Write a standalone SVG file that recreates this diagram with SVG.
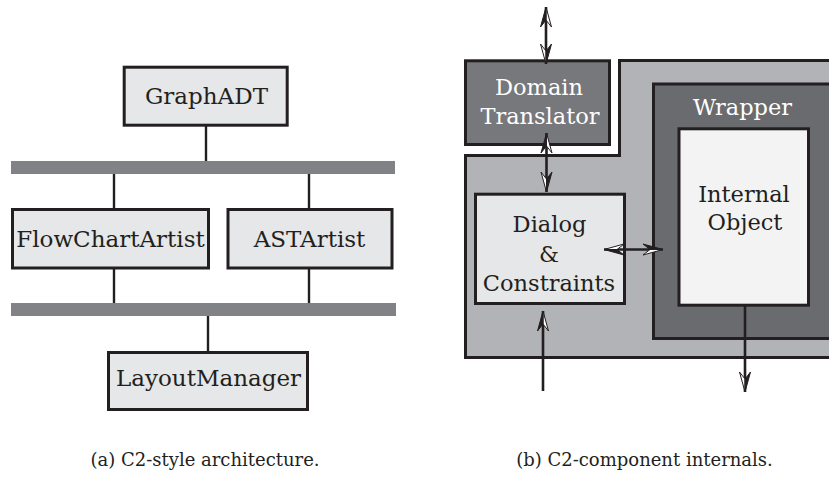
<svg xmlns="http://www.w3.org/2000/svg" width="829" height="481" viewBox="0 0 829 481">
<defs>
<style>
.box{fill:#e6e7e8;stroke:#231f20;stroke-width:3}
.bus{fill:#808285}
.wire{stroke:#231f20;stroke-width:2.4;fill:none}
.arr{stroke:#231f20;stroke-width:2.6;fill:none}
.lbl{font-family:"DejaVu Serif","Liberation Serif",serif;font-size:23px;fill:#231f20;text-anchor:middle}
.rl{font-size:22.5px}
.wt{fill:#ffffff}
.cap{font-family:"DejaVu Serif","Liberation Serif",serif;font-size:18px;fill:#231f20;text-anchor:middle}
</style>
<marker id="ah" viewBox="-22 -8 24 16" refX="0" refY="0" markerWidth="24" markerHeight="16" markerUnits="userSpaceOnUse" orient="auto-start-reverse">
<path d="M0,0 L-20,5.5 L-13,0 Z" fill="#ffffff" stroke="#231f20" stroke-width="1"/>
<path d="M0,0 L-20,-5.5 L-13,0 Z" fill="#231f20" stroke="#231f20" stroke-width="1"/>
</marker>
</defs>
<rect width="829" height="481" fill="#ffffff"/>

<!-- (a) C2-style architecture -->
<g id="bus1"><rect class="bus" x="11" y="161" width="384" height="13"/></g>
<g id="bus2"><rect class="bus" x="11" y="303" width="385" height="13"/></g>
<g id="connectors-a">
<line class="wire" x1="206" y1="126" x2="206" y2="161"/>
<line class="wire" x1="114" y1="174" x2="114" y2="209"/>
<line class="wire" x1="309" y1="174" x2="309" y2="209"/>
<line class="wire" x1="114" y1="268" x2="114" y2="303"/>
<line class="wire" x1="309" y1="268" x2="309" y2="303"/>
<line class="wire" x1="208" y1="316" x2="208" y2="352"/>
</g>
<g id="graphadt">
<rect class="box" x="124.2" y="67.2" width="163" height="58"/>
<text class="lbl" x="206.5" y="103.5">GraphADT</text>
</g>
<g id="flowchartartist">
<rect class="box" x="12.5" y="209.5" width="196" height="58.5"/>
<text class="lbl" x="110.5" y="247">FlowChartArtist</text>
</g>
<g id="astartist">
<rect class="box" x="228" y="209.5" width="164" height="58.5"/>
<text class="lbl" x="309.5" y="247">ASTArtist</text>
</g>
<g id="layoutmanager">
<rect class="box" x="108.5" y="352.5" width="199" height="57"/>
<text class="lbl" x="208.5" y="386">LayoutManager</text>
</g>

<!-- (b) C2-component internals -->
<g id="component">
<path d="M465.5,155.5 H619.5 V60.5 H840 V357.5 H465.5 Z" fill="#b1b3b6" stroke="#231f20" stroke-width="3"/>
</g>
<g id="domain-translator">
<rect x="465.5" y="60.8" width="144" height="83.7" fill="#77787b" stroke="#231f20" stroke-width="3"/>
<text class="lbl rl wt" x="539" y="95">Domain</text>
<text class="lbl rl wt" x="540" y="124">Translator</text>
</g>
<g id="wrapper">
<rect x="653.5" y="84" width="200" height="254.5" fill="#6a6b6e" stroke="#231f20" stroke-width="3"/>
<text class="lbl rl wt" x="742.5" y="115">Wrapper</text>
</g>
<g id="internal-object">
<rect x="679" y="128.8" width="129.5" height="176.4" fill="#f3f3f3" stroke="#231f20" stroke-width="3"/>
<text class="lbl rl" x="744" y="202">Internal</text>
<text class="lbl rl" x="745" y="230">Object</text>
</g>
<g id="dialog-constraints">
<rect class="box" x="475.5" y="194.2" width="149" height="109.3"/>
<text class="lbl rl" x="549.5" y="232">Dialog</text>
<text class="lbl rl" x="549" y="262">&amp;</text>
<text class="lbl rl" x="549" y="291">Constraints</text>
</g>
<g id="connectors-b">
<path class="arr" d="M546,7 V64" marker-start="url(#ah)" marker-end="url(#ah)"/>
<path class="arr" d="M546.5,133 V192" marker-start="url(#ah)" marker-end="url(#ah)"/>
<path class="arr" d="M604,249.5 H663" marker-start="url(#ah)" marker-end="url(#ah)"/>
<path class="arr" d="M543,391 V311" marker-end="url(#ah)"/>
<path class="arr" d="M745,306 V392" marker-end="url(#ah)"/>
</g>

<g id="captions">
<text class="cap" x="205" y="466">(a) C2-style architecture.</text>
<text class="cap" x="644.5" y="466">(b) C2-component internals.</text>
</g>
</svg>
